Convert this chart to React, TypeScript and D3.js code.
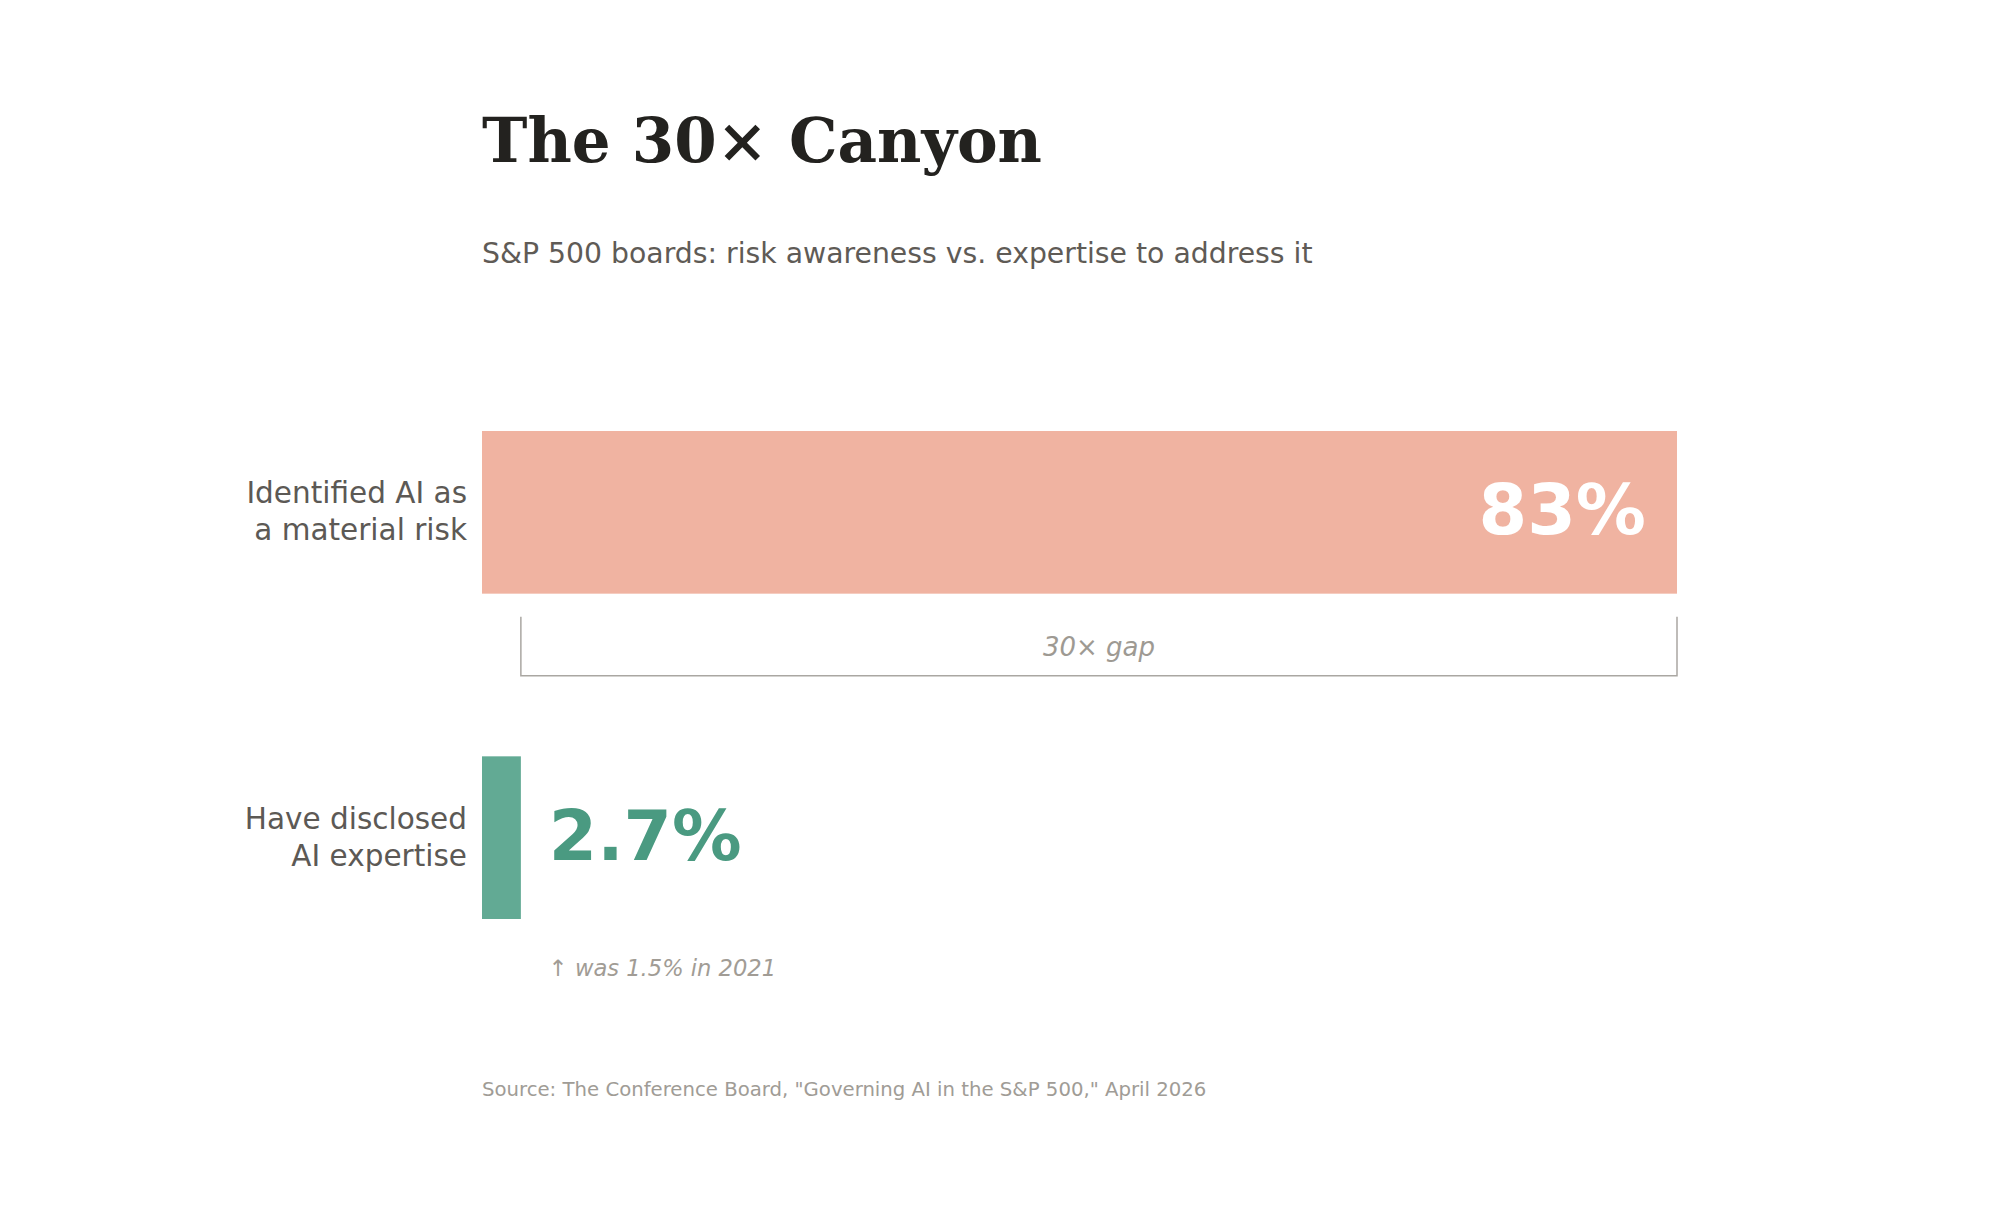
import React, { useEffect, useRef } from "react";
import * as d3 from "d3";

const categories = ["Identified AI as|a material risk", "Have disclosed|AI expertise"];
const values = [83, 2.7];
const valueLabels = ["83%", "2.7%"];
const gapLabel = "30× gap";
const priorNote = "↑ was 1.5% in 2021";

const W = 2000;
const H = 1214;
const SANS = "DejaVu Sans, Verdana, sans-serif";

const App = () => {
    const svgRef = useRef(null);

    useEffect(() => {
        document.body.style.margin = "0";
        const svg = d3.select(svgRef.current);
        svg.selectAll("*").remove();

        const x = d3.scaleLinear().domain([0, 83]).range([482, 1677]);
        const y = d3
            .scaleBand()
            .domain(categories)
            .range([431, 919])
            .paddingInner(0.5)
            .paddingOuter(0);

        const barFill = ["#f0b3a1", "#62aa94"];

        // title + subtitle
        svg.append("text")
            .attr("x", 482)
            .attr("y", 162)
            .attr("font-family", "DejaVu Serif, serif")
            .attr("font-weight", "bold")
            .attr("font-size", 61)
            .attr("fill", "#23221f")
            .text("The 30× Canyon");

        svg.append("text")
            .attr("x", 482)
            .attr("y", 263)
            .attr("font-family", SANS)
            .attr("font-size", 28.3)
            .attr("fill", "#5f5b56")
            .text("S&P 500 boards: risk awareness vs. expertise to address it");

        // bars
        svg.selectAll(".bar")
            .data(values)
            .enter()
            .append("rect")
            .attr("class", "bar")
            .attr("x", x(0))
            .attr("y", (_d, i) => y(categories[i]))
            .attr("width", (d) => x(d) - x(0))
            .attr("height", y.bandwidth())
            .attr("fill", (_d, i) => barFill[i]);

        // category labels, two lines each
        categories.forEach((c) => {
            const lines = c.split("|");
            const cy = y(c) + y.bandwidth() / 2;
            const t = svg.append("text")
                .attr("text-anchor", "end")
                .attr("font-family", SANS)
                .attr("font-size", 29.5)
                .attr("fill", "#5c5955");
            lines.forEach((ln, j) => {
                t.append("tspan")
                    .attr("x", 467)
                    .attr("y", cy - 9 + j * 37)
                    .text(ln);
            });
        });

        // value labels
        svg.append("text")
            .attr("x", x(values[0]) - 31)
            .attr("y", y(categories[0]) + y.bandwidth() / 2 + 21.5)
            .attr("text-anchor", "end")
            .attr("font-family", SANS)
            .attr("font-weight", "bold")
            .attr("font-size", 70)
            .attr("fill", "#ffffff")
            .text(valueLabels[0]);

        svg.append("text")
            .attr("x", x(values[1]) + 28)
            .attr("y", y(categories[1]) + y.bandwidth() / 2 + 22)
            .attr("font-family", SANS)
            .attr("font-weight", "bold")
            .attr("font-size", 69.5)
            .attr("fill", "#4a9a81")
            .text(valueLabels[1]);

        // gap bracket
        const bTop = y(categories[0]) + y.bandwidth() + 23;
        const bBot = bTop + 59;
        svg.append("path")
            .attr("d", `M${x(values[1])},${bTop}V${bBot}H${x(values[0])}V${bTop}`)
            .attr("fill", "none")
            .attr("stroke", "#aaa7a2")
            .attr("stroke-width", 1.5);

        svg.append("text")
            .attr("x", (x(values[1]) + x(values[0])) / 2)
            .attr("y", bBot - 20)
            .attr("text-anchor", "middle")
            .attr("font-family", SANS)
            .attr("font-style", "italic")
            .attr("font-size", 26)
            .attr("fill", "#9e9a93")
            .text(gapLabel);

        svg.append("text")
            .attr("x", x(values[1]) + 28)
            .attr("y", y(categories[1]) + y.bandwidth() + 57)
            .attr("font-family", SANS)
            .attr("font-style", "italic")
            .attr("font-size", 22.6)
            .attr("fill", "#a19c95")
            .text(priorNote);

        svg.append("text")
            .attr("x", 482)
            .attr("y", 1096)
            .attr("font-family", SANS)
            .attr("font-size", 19.7)
            .attr("fill", "#a09c96")
            .text('Source: The Conference Board, "Governing AI in the S&P 500," April 2026');
    }, []);

    return (
        <div style={{ width: W, height: H, background: "#fff" }}>
            <svg ref={svgRef} width={W} height={H} style={{ display: "block" }}></svg>
        </div>
    );
};

export default App;
